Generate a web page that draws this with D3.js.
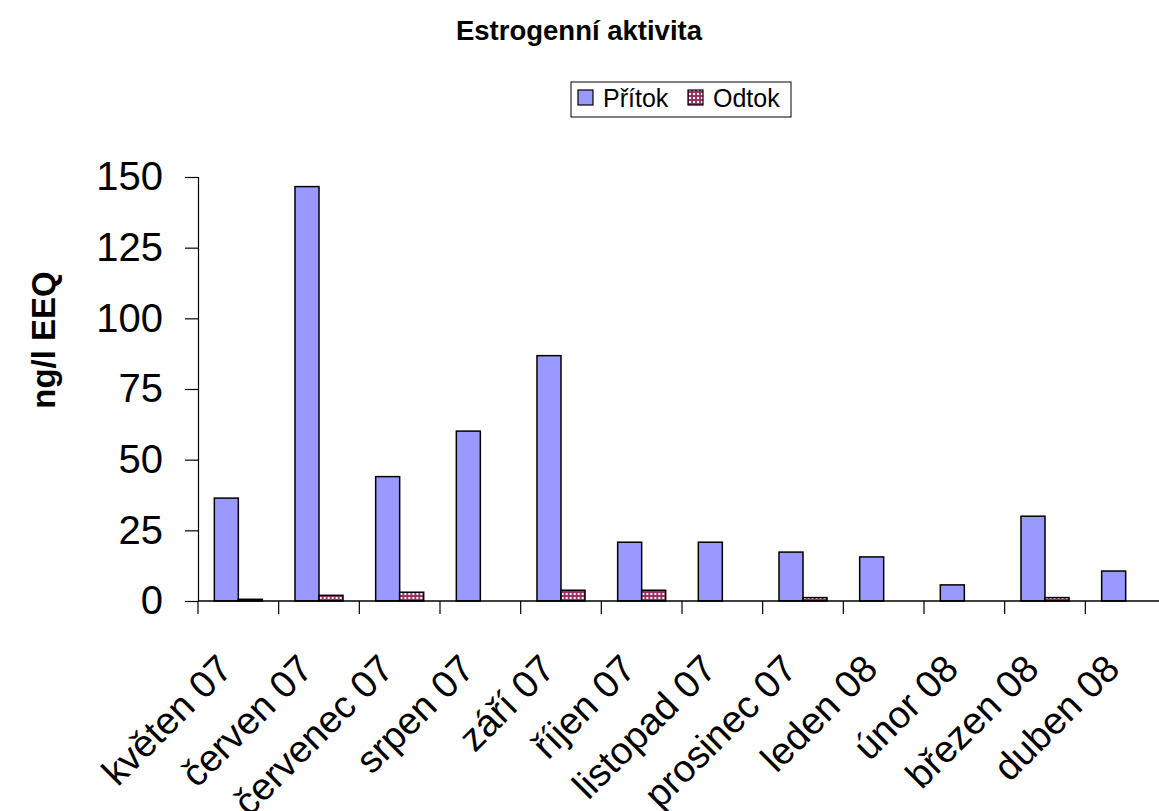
<!DOCTYPE html>
<html>
<head>
<meta charset="utf-8">
<script src="https://cdn.jsdelivr.net/npm/d3@7"></script>
<style>
  body { margin: 0; background: #fff; }
  svg { display: block; font-family: "Liberation Sans", Arial, sans-serif; }
</style>
</head>
<body>
<svg id="chart" width="1159" height="811"></svg>
<script>
// Monthly estrogenic activity, influent vs effluent (ng/l EEQ)
const months = ["květen 07", "červen 07", "červenec 07", "srpen 07", "září 07", "říjen 07",
                "listopad 07", "prosinec 07", "leden 08", "únor 08", "březen 08", "duben 08"];
const seriesNames = ["Přítok", "Odtok"];
const pritok = [36.4, 146.6, 44.0, 60.1, 86.8, 20.8, 20.8, 17.3, 15.6, 5.7, 30.0, 10.6];
const odtok  = [0.6, 2.0, 3.1, 0, 3.8, 3.8, 0, 1.2, 0, 0, 1.2, 0];
const yTicks = [0, 25, 50, 75, 100, 125, 150];

const svg = d3.select("#chart");
const margin = { left: 198, top: 177, bottom: 601, right: 1166 };

// pattern for effluent bars: maroon with white dots
const defs = svg.append("defs");
const pat = defs.append("pattern").attr("id", "dots")
  .attr("patternUnits", "userSpaceOnUse").attr("width", 4).attr("height", 4);
pat.append("rect").attr("width", 4).attr("height", 4).attr("fill", "#993366");
pat.append("rect").attr("x", 1).attr("y", 1).attr("width", 2).attr("height", 2).attr("fill", "#fff");

const fills = { "Přítok": "#9999FF", "Odtok": "url(#dots)" };

const x0 = d3.scaleBand().domain(months).range([margin.left, margin.right]).padding(0);
const x1 = d3.scaleBand().domain(seriesNames).range([0, x0.bandwidth()])
  .paddingInner(0).paddingOuter(0.68);
const y = d3.scaleLinear().domain([0, 150]).range([margin.bottom, margin.top]);

const rows = months.map((m, i) => ({ month: m, values: [
  { key: "Přítok", value: pritok[i] },
  { key: "Odtok", value: odtok[i] }
]}));

// bars
const groups = svg.append("g").selectAll("g").data(rows).join("g")
  .attr("transform", d => `translate(${x0(d.month)},0)`);
groups.selectAll("rect").data(d => d.values.filter(v => v.value > 0)).join("rect")
  .attr("x", d => x1(d.key))
  .attr("y", d => y(d.value))
  .attr("width", x1.bandwidth())
  .attr("height", d => y(0) - y(d.value))
  .attr("fill", d => fills[d.key])
  .attr("stroke", "#000")
  .attr("stroke-width", 1.5);

// y axis
const yAxis = d3.axisLeft(y).tickValues(yTicks).tickSize(13).tickPadding(22);
const gy = svg.append("g").attr("transform", `translate(${margin.left},0)`).call(yAxis);
gy.select(".domain").attr("stroke", "#000").attr("stroke-width", 1.2);
gy.selectAll(".tick line").attr("stroke", "#000").attr("stroke-width", 1.2);
gy.selectAll(".tick text").attr("font-size", 40).attr("fill", "#000")
  .attr("font-family", "Liberation Sans, Arial, sans-serif");

// x axis: ticks at category boundaries
const gx = svg.append("g");
gx.append("line").attr("x1", margin.left).attr("x2", 1159)
  .attr("y1", y(0)).attr("y2", y(0)).attr("stroke", "#000").attr("stroke-width", 1.5);
const bounds = months.map(m => x0(m)).concat([x0(months[months.length - 1]) + x0.bandwidth()]);
gx.selectAll("line.tk").data(bounds).join("line").attr("class", "tk")
  .attr("x1", d => d).attr("x2", d => d)
  .attr("y1", y(0)).attr("y2", y(0) + 13)
  .attr("stroke", "#000").attr("stroke-width", 1.2);
gx.selectAll("text").data(months).join("text")
  .attr("transform", d => `translate(${x0(d) + x0.bandwidth() / 2 - 4},${y(0) + 70}) rotate(-45)`)
  .attr("text-anchor", "end")
  .attr("font-size", 38)
  .attr("fill", "#000")
  .text(d => d);

// title
svg.append("text").attr("x", 579).attr("y", 40).attr("text-anchor", "middle")
  .attr("font-size", 27.5).attr("font-weight", "bold").text("Estrogenní aktivita");

// y axis title
svg.append("text").attr("transform", "translate(55,340) rotate(-90)")
  .attr("text-anchor", "middle").attr("font-size", 33).attr("font-weight", "bold")
  .text("ng/l EEQ");

// legend
const lg = svg.append("g");
lg.append("rect").attr("x", 571).attr("y", 82).attr("width", 220).attr("height", 35)
  .attr("fill", "#fff").attr("stroke", "#000").attr("stroke-width", 1);
const litems = [
  { key: "Přítok", sx: 578, tx: 603 },
  { key: "Odtok", sx: 688, tx: 713 }
];
lg.selectAll("rect.sw").data(litems).join("rect").attr("class", "sw")
  .attr("x", d => d.sx).attr("y", 90).attr("width", 15).attr("height", 15)
  .attr("fill", d => fills[d.key]).attr("stroke", "#000").attr("stroke-width", 1.2);
lg.selectAll("text").data(litems).join("text")
  .attr("x", d => d.tx).attr("y", 107).attr("font-size", 25).attr("fill", "#000")
  .text(d => d.key);
</script>
</body>
</html>
